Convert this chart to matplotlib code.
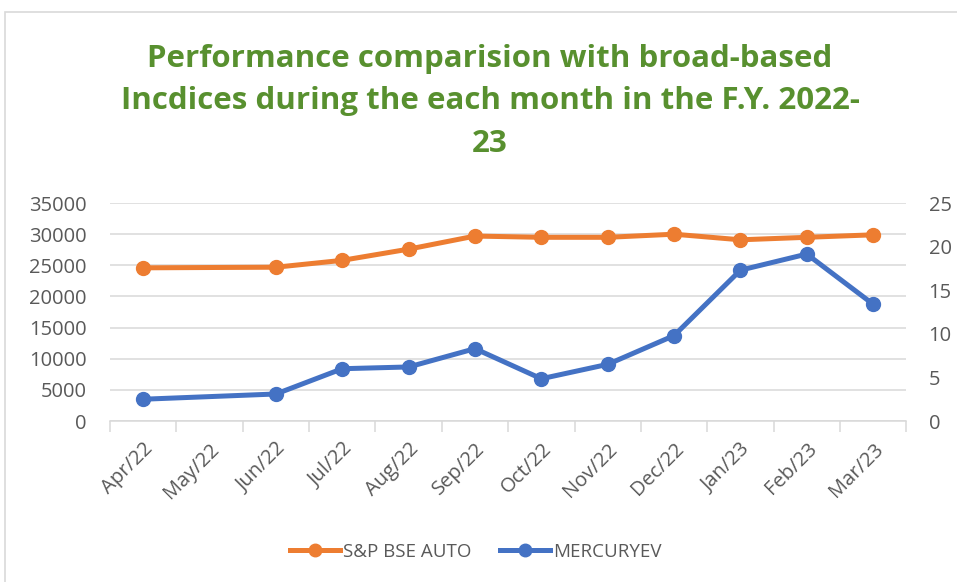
import numpy as np
import matplotlib.pyplot as plt
from matplotlib.lines import Line2D

# Donnees
mois = ["Apr/22", "May/22", "Jun/22", "Jul/22", "Aug/22", "Sep/22",
        "Oct/22", "Nov/22", "Dec/22", "Jan/23", "Feb/23", "Mar/23"]
bse_auto = [24600, None, 24700, 25800, 27600, 29700,
            29500, 29500, 30000, 29100, 29500, 29900]
mercury_ev = [2.5, None, 3.1, 6.0, 6.2, 8.3,
              4.85, 6.5, 9.8, 17.3, 19.15, 13.4]

orange = "#ED7D31"
bleu = "#4472C4"
gris = "#595959"
vert = "#548235"

plt.rcParams['font.family'] = ['Open Sans', 'DejaVu Sans']

fig = plt.figure(figsize=(9.57, 5.82), dpi=100)
ax = fig.add_axes([0.115, 0.2766, 0.832, 0.3745])
ax2 = ax.twinx()

# bordure du cadre (haut et gauche seulement visibles)
fig.add_artist(plt.Rectangle((5 / 957, -0.1), 2, 1 - 12 / 582 + 0.1,
                             transform=fig.transFigure, fill=False,
                             edgecolor="#D9D9D9", linewidth=1.2))

x = np.arange(len(mois))

def points(vals):
    xs = [i for i, v in zip(x, vals) if v is not None]
    ys = [v for v in vals if v is not None]
    return xs, ys

xs, ys = points(bse_auto)
ax.plot(xs, ys, color=orange, lw=3.6, marker="o", ms=10, zorder=3)
xs, ys = points(mercury_ev)
ax2.plot(xs, ys, color=bleu, lw=3.6, marker="o", ms=10, zorder=3)

ax.set_xlim(-0.5, len(mois) - 0.5)
ax.set_ylim(0, 35000)
ax2.set_ylim(0, 25)
ax.set_yticks(np.arange(0, 35001, 5000))
ax2.set_yticks(np.arange(0, 26, 5))
ax.grid(axis="y", color="#D9D9D9", lw=1.1)
ax.set_axisbelow(True)

for a in (ax, ax2):
    for s in ("top", "left", "right", "bottom"):
        a.spines[s].set_visible(False)
ax.spines["bottom"].set_visible(True)
ax.spines["bottom"].set_color("#D9D9D9")
ax.spines["bottom"].set_linewidth(1.1)

ax.set_xticks(x)
ax.set_xticklabels(mois, rotation=45, ha="right", rotation_mode="anchor")
ax.set_xticks(np.arange(-0.5, len(mois), 1), minor=True)
ax.tick_params(axis="x", which="major", length=0, pad=13, labelsize=14.5, labelcolor=gris)
ax.tick_params(axis="x", which="minor", length=8, color="#D9D9D9", width=1.1)
ax.tick_params(axis="y", length=0, pad=17, labelsize=14.5, labelcolor=gris)
ax2.tick_params(axis="y", length=0, pad=16, labelsize=14.5, labelcolor=gris)

fig.text(0.512, 0.925, "Performance comparision with broad-based\n"
         "Incdices during the each month in the F.Y. 2022-\n23",
         ha="center", va="top", fontsize=22.5, fontweight="bold", color="#58902F",
         linespacing=1.55)

poignees = [Line2D([], [], color=orange, lw=3.6, marker="o", ms=9),
            Line2D([], [], color=bleu, lw=3.6, marker="o", ms=9)]
fig.legend(poignees, ["S&P BSE AUTO", "MERCURYEV"], loc="center",
           bbox_to_anchor=(0.497, 0.052), ncol=2, frameon=False,
           fontsize=13.5, labelcolor=gris, handlelength=2.7,
           handletextpad=0.15, columnspacing=1.5)

fig.savefig("out.png", dpi=100, facecolor="white")
